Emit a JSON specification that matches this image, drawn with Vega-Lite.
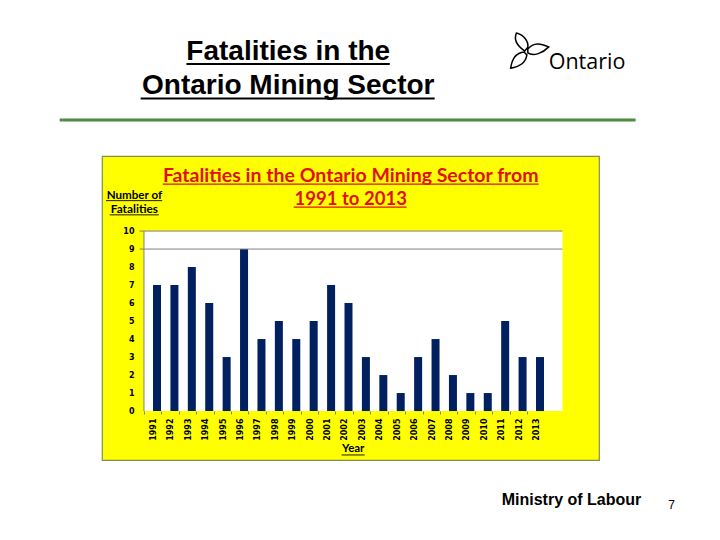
{"$schema":"https://vega.github.io/schema/vega-lite/v6.json","width":497,"height":304,"autosize":"none","padding":{"left":102,"top":156,"right":121,"bottom":80},"background":"white","config":{"view":{"fill":"#ffff00","stroke":"#7f8f4f","strokeWidth":1.2},"axis":{"labelOverlap":false,"labelBound":false}},"datasets":{"fatalities":[{"year":1991,"fatalities":7},{"year":1992,"fatalities":7},{"year":1993,"fatalities":8},{"year":1994,"fatalities":6},{"year":1995,"fatalities":3},{"year":1996,"fatalities":9},{"year":1997,"fatalities":4},{"year":1998,"fatalities":5},{"year":1999,"fatalities":4},{"year":2000,"fatalities":5},{"year":2001,"fatalities":7},{"year":2002,"fatalities":6},{"year":2003,"fatalities":3},{"year":2004,"fatalities":2},{"year":2005,"fatalities":1},{"year":2006,"fatalities":3},{"year":2007,"fatalities":4},{"year":2008,"fatalities":2},{"year":2009,"fatalities":1},{"year":2010,"fatalities":1},{"year":2011,"fatalities":5},{"year":2012,"fatalities":3},{"year":2013,"fatalities":3}]},"data":{"values":[{}]},"layer":[
{"mark":{"type":"rect","fill":"white"},"encoding":{"x":{"datum":1990.25,"type":"quantitative","scale":{"domain":[1987.84,2016.39],"nice":false,"zero":false,"padding":0},"axis":{"values":[1991,1992,1993,1994,1995,1996,1997,1998,1999,2000,2001,2002,2003,2004,2005,2006,2007,2008,2009,2010,2011,2012,2013],"tickCount":40,"format":"d","title":null,"grid":false,"domain":false,"offset":-49,"tickOffset":-13,"labelOffset":9.5,"tickSize":3,"tickColor":"#808080","labelAngle":-90,"labelAlign":"right","labelBaseline":"middle","labelPadding":4,"labelFont":"DejaVu Sans","labelFontWeight":"bold","labelFontSize":8,"labelColor":"black","labelOverlap":false}},"x2":{"datum":2014.29},"y":{"datum":0,"type":"quantitative","scale":{"domain":[-2.72,14.17],"nice":false,"zero":false,"padding":0},"axis":{"values":[0,1,2,3,4,5,6,7,8,9,10],"tickCount":40,"format":"d","title":null,"grid":false,"domain":false,"ticks":false,"offset":-32,"labelPadding":0,"labelFont":"DejaVu Sans","labelFontWeight":"bold","labelFontSize":8,"labelColor":"black","labelOverlap":false}},"y2":{"datum":10}}},
{"data":{"name":"fatalities"},"mark":{"type":"bar","width":8,"color":"#002060"},"encoding":{"x":{"field":"year","type":"quantitative"},"y":{"field":"fatalities","type":"quantitative"}}},
{"mark":{"type":"rule","color":"#808080","strokeWidth":1},"encoding":{"x":{"datum":1990.0,"type":"quantitative"},"x2":{"datum":2014.29},"y":{"datum":10,"type":"quantitative"}}},
{"mark":{"type":"rule","color":"#808080","strokeWidth":1},"encoding":{"x":{"datum":1990.0,"type":"quantitative"},"x2":{"datum":2014.29},"y":{"datum":9,"type":"quantitative"}}},
{"mark":{"type":"rule","color":"#808080","strokeWidth":1},"encoding":{"x":{"datum":1990.25,"type":"quantitative"},"y":{"datum":0,"type":"quantitative"},"y2":{"datum":10}}},
{"mark":{"type":"text","text":"Fatalities in the Ontario Mining Sector from","font":"Lato","fontWeight":"bold","fontSize":19.5,"color":"#e01010","align":"center","baseline":"alphabetic"},"encoding":{"x":{"datum":2002.13,"type":"quantitative"},"y":{"datum":12.74,"type":"quantitative"}}},
{"mark":{"type":"text","text":"1991 to 2013","font":"Lato","fontWeight":"bold","fontSize":18.5,"color":"#e01010","align":"center","baseline":"alphabetic"},"encoding":{"x":{"datum":2002.13,"type":"quantitative"},"y":{"datum":11.44,"type":"quantitative"}}},
{"mark":{"type":"rule","color":"#e01010","strokeWidth":1.2},"encoding":{"x":{"datum":1991.33,"type":"quantitative"},"x2":{"datum":2012.92},"y":{"datum":12.61,"type":"quantitative"}}},
{"mark":{"type":"rule","color":"#e01010","strokeWidth":1.2},"encoding":{"x":{"datum":1998.85,"type":"quantitative"},"x2":{"datum":2005.34},"y":{"datum":11.33,"type":"quantitative"}}},
{"mark":{"type":"text","text":"Number of","font":"Lato","fontWeight":"bold","fontSize":11.6,"color":"black","align":"center","baseline":"alphabetic"},"encoding":{"x":{"datum":1989.7,"type":"quantitative"},"y":{"datum":11.78,"type":"quantitative"}}},
{"mark":{"type":"text","text":"Fatalities","font":"Lato","fontWeight":"bold","fontSize":11.8,"color":"black","align":"center","baseline":"alphabetic"},"encoding":{"x":{"datum":1989.7,"type":"quantitative"},"y":{"datum":11.0,"type":"quantitative"}}},
{"mark":{"type":"rule","color":"black","strokeWidth":0.9},"encoding":{"x":{"datum":1988.07,"type":"quantitative"},"x2":{"datum":1991.3},"y":{"datum":11.69,"type":"quantitative"}}},
{"mark":{"type":"rule","color":"black","strokeWidth":0.9},"encoding":{"x":{"datum":1988.28,"type":"quantitative"},"x2":{"datum":1991.1},"y":{"datum":10.9,"type":"quantitative"}}},
{"mark":{"type":"text","text":"Year","font":"Lato","fontWeight":"bold","fontSize":11.5,"color":"black","align":"center","baseline":"alphabetic"},"encoding":{"x":{"datum":2002.27,"type":"quantitative"},"y":{"datum":-2.28,"type":"quantitative"}}},
{"mark":{"type":"rule","color":"black","strokeWidth":0.9},"encoding":{"x":{"datum":2001.6,"type":"quantitative"},"x2":{"datum":2002.93},"y":{"datum":-2.44,"type":"quantitative"}}},
{"mark":{"type":"text","text":"Fatalities in the","font":"Liberation Sans","fontWeight":"bold","fontSize":28,"color":"black","align":"center","baseline":"alphabetic"},"encoding":{"x":{"datum":1998.54,"type":"quantitative"},"y":{"datum":19.5,"type":"quantitative"}}},
{"mark":{"type":"text","text":"Ontario Mining Sector","font":"Liberation Sans","fontWeight":"bold","fontSize":28,"color":"black","align":"center","baseline":"alphabetic"},"encoding":{"x":{"datum":1998.54,"type":"quantitative"},"y":{"datum":17.61,"type":"quantitative"}}},
{"mark":{"type":"rule","color":"black","strokeWidth":2},"encoding":{"x":{"datum":1992.69,"type":"quantitative"},"x2":{"datum":2004.37},"y":{"datum":19.28,"type":"quantitative"}}},
{"mark":{"type":"rule","color":"black","strokeWidth":2},"encoding":{"x":{"datum":1990.06,"type":"quantitative"},"x2":{"datum":2006.95},"y":{"datum":17.37,"type":"quantitative"}}},
{"mark":{"type":"rule","color":"#4f8a45","strokeWidth":3},"encoding":{"x":{"datum":1985.41,"type":"quantitative"},"x2":{"datum":2018.49},"y":{"datum":16.167,"type":"quantitative"}}},
{"mark":{"type":"point","shape":"M-0.26 0C-0.7 -0.3 -0.85 -0.6 -0.7 -0.95C-0.3 -0.85 -0.05 -0.5 -0.1 -0.2ZM-0.1 -0.1C0.2 -0.5 0.6 -0.4 1 -0.22C0.7 0.1 0.2 0.3 -0.1 0.1ZM-0.3 0.05C-0.75 0.1 -0.95 0.5 -1 0.9C-0.55 0.85 -0.2 0.6 -0.15 0.2Z","size":1444,"filled":false,"stroke":"black","strokeWidth":1.5,"opacity":1},"encoding":{"x":{"datum":2012.41,"type":"quantitative"},"y":{"datum":20,"type":"quantitative"}}},
{"mark":{"type":"text","text":"Ontario","font":"Open Sans","fontSize":21.5,"color":"black","align":"left","baseline":"alphabetic"},"encoding":{"x":{"datum":2013.5,"type":"quantitative"},"y":{"datum":19,"type":"quantitative"}}},
{"mark":{"type":"text","text":"Ministry of Labour","font":"Liberation Sans","fontWeight":"bold","fontSize":16,"color":"black","align":"left","baseline":"alphabetic"},"encoding":{"x":{"datum":2010.8,"type":"quantitative"},"y":{"datum":-5.22,"type":"quantitative"}}},
{"mark":{"type":"text","text":"7","font":"Liberation Sans","fontSize":12,"color":"black","align":"center","baseline":"alphabetic"},"encoding":{"x":{"datum":2020.56,"type":"quantitative"},"y":{"datum":-5.44,"type":"quantitative"}}}
]}
